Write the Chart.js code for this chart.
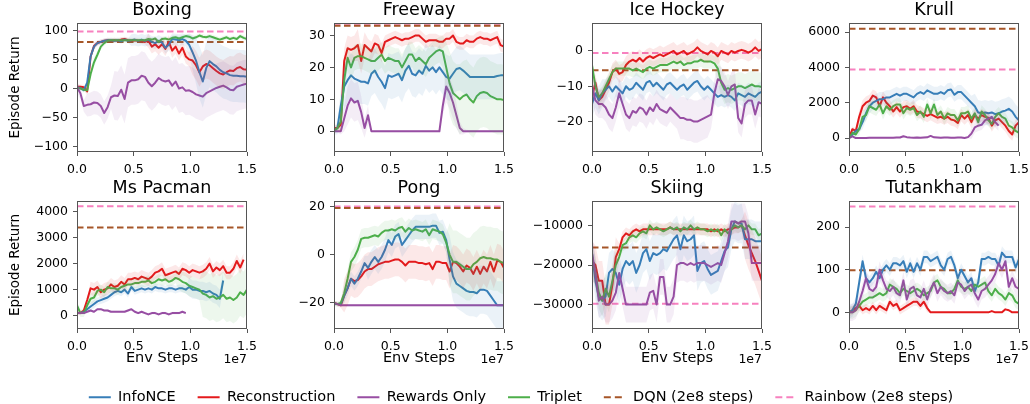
<!DOCTYPE html>
<html><head><meta charset="utf-8">
<script src="https://cdn.jsdelivr.net/npm/chart.js@4.4.0/dist/chart.umd.min.js"></script>
<style>
html,body{margin:0;padding:0;background:#fff;}
body{width:1030px;height:404px;position:relative;overflow:hidden;}
canvas{position:absolute;}
</style></head><body>
<script>
// ---------- x positions (units of 1e7 env steps) ----------
const STEPS = [0,0.03,0.06,0.09,0.12,0.15,0.18,0.21,0.24,0.27,0.3,0.33,0.36,0.39,0.42,0.45,0.48,0.51,0.54,0.57,0.6,0.63,0.66,0.69,0.72,0.75,0.78,0.81,0.84,0.87,0.9,0.93,0.96,0.99,1.02,1.05,1.08,1.11,1.14,1.17,1.2,1.23,1.26,1.29,1.32,1.35,1.38,1.41,1.44,1.47,1.5];
const X_TICKS = [0, 0.5, 1.0, 1.5];
const SERIES_NAMES = ['InfoNCE','Reconstruction','Rewards Only','Triplet','DQN (2e8 steps)','Rainbow (2e8 steps)'];
const GAMES = ['Boxing','Freeway','Ice Hockey','Krull','Ms Pacman','Pong','Skiing','Tutankham'];

// ---------- Boxing ----------
const BOX_INFONCE = [2,1,-3,10,55,72,78,80,82,83, 83,82,83,81,84,82,83,84,82,84, 82,84,80,78,82,79,70,75,85,84, 83,85,82,75,62,48,28,12,35,47, 42,38,32,28,26,23,22,22,21,21, 20];
const BOX_RECON = [3,3,2,-5,55,73,78,80,82,83, 82,83,82,84,85,83,82,83,82,81, 80,82,72,76,70,76,68,80,65,72, 60,70,55,50,48,40,28,38,42,40, 35,30,26,24,28,31,30,35,37,33, 32];
const BOX_REWARDS = [2,-8,-30,-28,-27,-24,-25,-30,-42,-32, -15,-12,-13,-2,-18,10,14,14,16,22, 20,10,4,10,18,14,12,14,5,12, 0,2,-4,-3,-6,-10,-12,-14,-8,-5, -2,1,3,5,2,-2,-3,3,5,7, 8];
const BOX_TRIPLET = [0,0,-2,-3,25,45,58,72,78,82, 83,83,83,83,83,83,83,83,83,83, 83,85,84,86,80,85,86,84,87,88, 86,88,90,89,86,88,91,89,88,90, 88,86,84,86,88,85,87,85,90,87, 85];
const SD_BOX_INFONCE = [4,4,4,4,6,6,5,4,4,4, 4,4,4,4,4,4,10,10,10,10, 10,10,10,10,10,10,10,10,10,10, 10,10,10,20,30,40,45,45,45,45, 45,45,45,45,45,45,45,45,45,45, 45];
const SD_BOX_RECON = [4,4,4,6,6,5,4,4,4,4, 4,4,4,4,4,4,4,4,4,4, 4,12,12,12,12,12,12,12,12,12, 12,12,12,12,25,25,25,25,25,25, 25,25,25,25,25,25,25,25,25,25, 25];
const SD_BOX_REWARDS = [10,10,10,20,20,20,20,20,20,20, 20,42,42,42,42,42,42,42,42,42, 42,42,42,42,42,42,42,42,42,42, 42,42,42,42,42,42,42,42,42,42, 42,42,42,42,42,42,42,42,42,42, 42];
const SD_BOX_TRIPLET = [3,3,3,5,8,8,6,5,4,4, 4,4,4,4,4,4,4,4,4,4, 4,4,4,4,4,4,4,4,4,4, 4,4,4,4,4,4,4,4,4,4, 4,4,4,4,4,4,4,4,4,4, 4];
const BOX_YTICKS = [-100,-50,0,50,100];

// ---------- Freeway ----------
const FRW_INFONCE = [0,1,8,14,16,17.5,16.5,16,15.5,15.5, 15,18,19,17,15.5,13.5,17.5,17,17.5,18, 16,19,20.5,18,17.5,19,18,20.5,19,20, 18.5,20,18.5,17,16.5,18,19.5,19.8,19,18, 17,17,17,17,17,17,17,17,17.3,17.5, 17.5];
const FRW_RECON = [1,1,2,22,26,25.5,26,27,22,27, 26,25,27.5,27,24.5,28,28.5,29,29.5,29, 28.5,29,29,29.5,30,30,29,28,28.5,28.5, 28.5,28,28,29,29,30,28,27.5,27.5,28.5, 28,28,29,29.5,29,29,28.5,29,29.5,27, 26.5];
const FRW_REWARDS = [0,0,0,4,8,10.3,9,9.5,6,1, 5,0,0,0,0,0,0,0,0,0, 0,0,0,0,0,0,0,0,0,0, 0,0,8,14,12,9,5,1,0,0, 0,0,0,0,0,0,0,0,0,0, 0];
const FRW_TRIPLET = [0,1,3,16,23,20,23,23.5,23.5,23, 22.5,22,22,23,24,22,23,22.5,22,22, 20,22,24,24,22,23,22,21,23,24, 25,25.5,25,20,15,12,11,10,11,11.5, 10,9,11,12,12.3,12,11,10.5,10,10, 9.8];
const SD_FRW_INFONCE = [1,2,5,7,7,7,7,7,7,7, 7,7,7,7,7,7,7,7,7,7, 7,7,7,7,7,7,7,7,7,7, 7,7,7,7,7,7,7,7,7,7, 7,7,7,7,7,7,7,7,7,7, 7];
const SD_FRW_RECON = [1,1,2,4,4,4,4,5,4,4, 3,3,3,3,3,2,2,2,2,2, 2,2,2,2,2,2,2,2,2,2, 2,2,2,2,2,2,2,2,2,2, 2,2,2,2,2,2,2,2,2,2, 2];
const SD_FRW_REWARDS = [0.5,0.5,1,4,6,6,6,6,5,3, 3,0.3,0.3,0.3,0.3,0.3,0.3,0.3,0.3,0.3, 0.3,0.3,0.3,0.3,0.3,0.3,0.3,0.3,0.3,0.3, 0.3,0.3,3,5,5,5,4,2,1,0.5, 0.3,0.3,0.3,0.3,0.3,0.3,0.3,0.3,0.3,0.3, 0.3];
const SD_FRW_TRIPLET = [1,1,3,4,4,4,4,4,4,4, 4,4,4,4,4,4,4,4,4,4, 4,4,4,4,4,4,4,4,4,4, 4,4,5,8,10,10,10,11,11,11, 11,11,11,11,11,11,11,11,11,11, 11];
const FRW_YTICKS = [0,10,20,30];

// ---------- Ice Hockey ----------
const ICE_INFONCE = [-15,-12,-14,-12,-11,-10,-11.5,-10,-11,-12, -10,-11,-10.5,-9,-10,-11,-9,-8.5,-10,-9, -10,-11,-9.5,-9,-10,-11,-10,-9.5,-11,-10, -9,-8.5,-10,-11,-10,-11,-12,-13,-12.5,-13, -12.5,-13,-14,-12,-12.5,-13,-12,-12.5,-13,-12, -11.5];
const ICE_RECON = [-13,-9,-14,-13,-11,-9,-6,-5,-6.5,-6, -4,-3,-2.5,-3,-2,-3,-2,-1.5,-2,-1.5, -1,-1.5,-1,-0.5,0,-1,-0.5,0,-1,-0.5, 0,1,0,-0.5,-1,0,-0.5,-1.5,0,-0.5, -1,0,-0.5,0,0.3,0,-0.5,0,1,0, 0.5];
const ICE_REWARDS = [-10,-14,-15,-15,-16,-18,-19,-16,-12,-15, -18,-19,-17,-17.5,-16,-16.5,-18,-16,-17,-15, -16.5,-17,-17.5,-16,-17,-18,-19,-19,-19.5,-19.5, -20,-20,-19.5,-19,-18.5,-18,-12,-8,-8.5,-10, -12.5,-10,-9.5,-19,-20.5,-15,-14,-14,-18,-14.5, -15];
const ICE_TRIPLET = [-4,-10,-13,-12,-10,-8,-6,-5,-5,-5, -5,-5,-5.5,-5,-5.5,-6,-5,-4.5,-5,-4.5, -4,-4,-4,-3.5,-3,-3.5,-3,-4,-3.5,-3.5, -3,-3,-2.5,-3,-3,-3,-3.5,-5,-9,-11, -10.5,-11,-10.5,-10,-10,-10.5,-10,-9.5,-10,-10, -10.2];
const SD_ICE_INFONCE = [4,4,4,4,3,3,3,3,3,3, 3,3,3,3,3,3,3,3,3,3, 3,3,3,3,3,3,3,3,3,3, 3,3,3,3,3,3,3,3,3,3, 3,3,3,3,3,3,3,3,3,3, 3];
const SD_ICE_RECON = [2.5,2.5,2.5,2.5,2.5,2.5,2.5,2.5,2.5,2.5, 2.5,2.5,2.5,2.5,2.5,2.5,2.5,2.5,2.5,2.5, 2.5,2.5,2.5,2.5,2.5,2.5,2.5,2.5,2.5,2.5, 2.5,2.5,2.5,2.5,2.5,2.5,2.5,2.5,2.5,2.5, 2.5,2.5,2.5,2.5,2.5,2.5,2.5,2.5,2.5,2.5, 2.5];
const SD_ICE_REWARDS = [4,4,4,4,4,4,4,4,4,4, 4,4,4,4,4,4,4,4,4,4, 4,4,4,4,4,4,6,6,6,6, 6,6,6,6,6,4,4,4,4,4, 4,4,4,4,4,4,4,4,4,4, 4];
const SD_ICE_TRIPLET = [2,2,2,2,2,2,2,2,2,2, 2,2,2,2,2,2,2,2,2,2, 2,2,2,2,2,2,2,2,2,2, 2,2,2,2,2,2,2,4,4,4, 4,4,4,4,4,4,4,4,4,4, 4];
const ICE_YTICKS = [-20,-10,0];

// ---------- Krull ----------
const KRL_INFONCE = [0,200,400,500,900,1400,1800,2000,2100,2200, 2200,2300,2300,2400,2500,2400,2500,2500,2400,2300, 2500,2600,2500,2700,2600,2500,2500,2600,2500,2700, 2750,2450,2600,2600,2400,2200,2000,1800,1450,1400, 1450,1400,1450,1350,1400,1500,1550,1650,1500,1200, 1000];
const KRL_RECON = [0,500,400,1200,1800,2000,2100,2400,2300,1800, 2300,2000,1800,1500,1750,1500,1750,1800,1650,1800, 1500,1450,1350,1250,1350,1250,1150,1200,1100,1200, 1050,1000,850,1300,1100,1300,900,1300,1100,1300, 1200,1150,700,1000,1100,900,700,400,200,700, 900];
const KRL_REWARDS = [0,100,0,0,0,0,10,20,20,20, 20,20,20,20,30,30,100,50,30,20, 30,20,30,40,120,40,30,20,30,30, 20,20,30,30,0,50,250,600,700,750, 1000,1100,1200,900,700,null,null,null,null,null, null];
const KRL_TRIPLET = [0,300,200,500,1200,1300,1800,1700,1600,1900, 1400,1800,1600,1800,1900,1900,1400,1700,1600,1700, 1300,1500,1200,1900,1400,1900,1300,1500,1100,1400, 1300,1300,1000,1400,1400,1500,1100,1400,900,1500, 1300,1000,800,1200,1400,1200,1100,700,600,400, 300];
const SD_KRL_INFONCE = [150,150,150,150,400,400,400,400,400,400, 400,400,400,400,400,400,400,400,400,400, 400,400,400,400,400,400,400,400,400,400, 400,400,400,400,400,400,400,700,700,700, 700,700,700,700,700,700,700,700,700,700, 700];
const SD_KRL_RECON = [150,150,150,350,350,350,350,350,350,350, 350,350,350,350,350,350,350,350,350,350, 350,350,350,350,350,350,350,350,350,350, 350,350,350,350,350,350,350,350,350,350, 350,350,350,350,350,350,350,350,350,350, 350];
const SD_KRL_REWARDS = [60,60,60,60,60,60,60,60,60,60, 60,60,60,60,60,60,60,60,60,60, 60,60,60,60,60,60,60,60,60,60, 60,60,60,60,60,60,300,300,300,300, 300,300,300,300,300,null,null,null,null,null, null];
const SD_KRL_TRIPLET = [150,150,150,350,350,350,350,350,350,350, 350,350,350,350,350,350,350,350,350,350, 350,350,350,350,350,350,350,350,350,350, 350,350,350,350,350,350,350,350,350,350, 350,350,350,350,350,350,350,350,350,350, 350];
const KRL_YTICKS = [0,2000,4000,6000];

// ---------- Ms Pacman ----------
const MSP_INFONCE = [100,100,150,250,350,450,550,600,650,700, 800,900,950,900,1000,850,1100,950,1000,1050, 1000,1050,1000,1100,1050,1050,1000,1050,1050,1000, 1050,1050,1000,1100,1000,1000,950,950,900,950, 850,800,650,1350,null,null,null,null,null,null, null];
const MSP_RECON = [100,100,200,600,1050,1000,1100,900,1000,1050, 1200,1100,1150,1300,1200,1400,1400,1450,1400,1500, 1450,1400,1500,1650,1700,1800,1550,1600,1650,1700, 1600,1800,1750,1650,1750,1700,1650,1700,1800,2000, 1700,1850,1750,1900,1650,1650,1800,2100,1850,2150, null];
const MSP_REWARDS = [100,100,100,150,200,150,250,250,200,200, 150,150,150,150,150,200,250,150,100,150, 100,50,100,100,50,100,100,50,100,100, 100,150,100,null,null,null,null,null,null,null, null,null,null,null,null,null,null,null,null,null, null];
const MSP_TRIPLET = [400,100,100,400,650,700,950,1000,900,1100, 1050,1050,1000,1100,1150,1200,1200,1250,1250,1300, 1300,1350,1250,1300,1400,1350,1400,1300,1350,1450, 1400,1300,1250,1150,1100,1050,1000,850,800,700, 750,650,700,800,650,700,600,700,900,800, 1000];
const SD_MSP_INFONCE = [50,50,50,50,150,150,150,150,150,150, 150,150,150,150,150,150,150,150,150,150, 150,150,150,150,150,150,150,150,150,150, 150,150,150,350,350,350,350,350,350,350, 350,350,350,350,null,null,null,null,null,null, null];
const SD_MSP_RECON = [80,80,80,80,250,250,250,250,250,250, 250,250,250,250,250,250,250,250,250,250, 250,250,250,250,250,250,250,250,250,250, 250,250,250,250,250,250,250,250,250,250, 250,250,250,250,250,250,250,250,250,250, null];
const SD_MSP_REWARDS = [50,50,50,50,50,50,50,50,50,50, 50,50,50,50,50,50,50,50,50,50, 50,50,50,50,50,50,50,50,50,50, 50,50,50,null,null,null,null,null,null,null, null,null,null,null,null,null,null,null,null,null, null];
const SD_MSP_TRIPLET = [150,150,150,150,200,200,200,200,200,200, 200,200,200,200,200,200,200,200,200,200, 200,200,200,200,200,200,200,200,200,200, 400,400,400,400,400,400,400,900,900,900, 900,900,900,900,900,900,900,900,900,900, 900];
const MSP_YTICKS = [0,1000,2000,3000,4000];

// ---------- Pong ----------
const PNG_INFONCE = [-20.5,-20.5,-20.5,-17,-14,-10,-12,-10,-7,-3.5, -5.5,-3,-1,-3,-1,2,6,4,7.5,8.5, 4,6,8,10,11.5,11.5,11.5,11.5,11.5,12, 12,9,9.5,6,-2,-9,-12,-13,-14,-15, -15.5,-15.5,-16,-14.5,-14.5,-15,-17,-19,-21,-21, -21];
const PNG_RECON = [-20,-20.5,-21,-17,-14,-10,-11,-10.5,-9,-7, -6,-6,-5,-4,-3.5,-3,-3,-2.5,-2,-2, -3,-4.5,-3,-3,-3,-3.5,-3.5,-4,-3.5,-6, -3,-3,-3.5,-3.5,-7,-3,-3.5,-5,-7,-4.5, -5.5,-8,-5,-8,-5,-7,-3,-7,-2.5,-3, -5.5];
const PNG_REWARDS = [-20,-20.5,-21,-21,-21,-21,-21,-21,-21,-21, -21,-21,-21,-21,-21,-21,-21,-21,-21,-21, -21,-21,-21,-21,-21,-21,-21,-21,-21,-21, -21,-21,-21,-21,-21,-21,-21,-21,-21,-21, -21,-21,-21,-21,-21,-21,-21,-21,-21,-21, -21];
const PNG_TRIPLET = [-20,-20.5,-20,-16,-10,-3,-1,2,6.5,7, 7,7.5,8,7.5,9,10,10,10.5,10,11, 11.5,9.5,11,10,10.5,10,9.5,10.5,8,10.5, 10,9.5,8.5,5,0,-3,-3,-4,-5,-6, -6,-4,-3,-1.5,-1,-1.5,-1.5,-2,-2,-3, -3.5];
const SD_PNG_INFONCE = [1,1,1,3,3,3,3,3,3,3, 5,5,5,5,5,5,5,5,5,5, 5,5,5,5,5,5,5,5,5,5, 5,5,5,5,10,10,10,10,10,10, 10,10,10,10,10,10,10,10,10,10, 10];
const SD_PNG_RECON = [1,1,1,7,7,7,7,7,7,7, 7,7,7,7,7,7,7,7,7,7, 7,7,7,7,7,7,7,7,7,7, 7,7,7,7,7,7,7,7,7,7, 7,7,7,7,7,7,7,7,7,7, 7];
const SD_PNG_REWARDS = [0.5,0.5,0.5,0.5,0.5,0.5,0.5,0.5,0.5,0.5, 0.5,0.5,0.5,0.5,0.5,0.5,0.5,0.5,0.5,0.5, 0.5,0.5,0.5,0.5,0.5,0.5,0.5,0.5,0.5,0.5, 0.5,0.5,0.5,0.5,0.5,0.5,0.5,0.5,0.5,0.5, 0.5,0.5,0.5,0.5,0.5,0.5,0.5,0.5,0.5,0.5, 0.5];
const SD_PNG_TRIPLET = [1,1,1,4,4,4,4,4,4,4, 4,4,4,4,4,4,4,4,4,4, 4,4,4,4,4,4,4,4,4,4, 4,4,4,4,13,13,13,13,13,13, 13,13,13,13,13,13,13,13,13,13, 13];
const PNG_YTICKS = [-20,0,20];

// ---------- Skiing ----------
const SKI_INFONCE = [-17000,-24000,-28000,-29000,-28000,-22000,-21000,-22000,-25000,-21000, -19000,-20000,-19000,-22000,-20000,-17000,-16000,-19000,-17000,-17500, -17000,-16000,-16500,-15000,-13500,-12500,-16000,-12500,-14000,-13500, -12500,-21500,-19500,-19000,-21000,-22500,-22000,-21500,-19000,-16500, -15500,-11000,-9000,-9500,-9500,-13500,-13500,-13500,-14000,-14000, -14000];
const SKI_RECON = [-19000,-20000,-24000,-24000,-30000,-30000,-25000,-18000,-16000,-13000, -12000,-12500,-11500,-11000,-11500,-11000,-11000,-11000,-11000,-11000, -11000,-11000,-11000,-10500,-11000,-11000,-11000,-11000,-11000,-11000, -11000,-11000,-11000,-11000,-11000,-11500,-11000,-11500,-11000,-11500, -11000,-11000,-10500,-10500,-10000,-12500,-15000,-17000,-19000,-21500, -24000];
const SKI_REWARDS = [-17000,-22000,-29000,-28000,-30000,-30000,-29000,-27000,-22000,-26000, -30000,-30000,-30000,-30000,-30000,-30000,-30000,-27000,-26500,-30000, -23000,-23000,-30000,-30000,-28000,-20000,-19500,-19500,-20000,-19500, -20000,-19500,-19500,-19500,-20000,-20500,-20000,-19500,-20000,-17000, -14000,-9000,-9000,-9500,-9000,-9000,-12000,-19500,-19500,-19500, -19500];
const SKI_TRIPLET = [-18000,-22000,-27000,-29000,-26000,-28000,-24000,-20000,-18000,-15000, -14500,-13000,-12500,-13000,-12000,-11500,-12000,-10000,-11000,-10500, -11000,-11500,-11000,-10500,-11000,-10500,-11500,-10500,-11000,-10000, -11000,-10500,-11000,-11000,-11500,-11000,-11500,-11000,-12500,-11000, -12000,-11000,-10000,-10500,-10000,-11000,-10000,-11000,-11000,-12500, -12000];
const SD_SKI_INFONCE = [5000,5000,5000,5000,5000,5000,5000,5000,5000,5000, 5000,5000,5000,5000,5000,5000,5000,5000,5000,5000, 5000,5000,5000,5000,5000,5000,5000,5000,5000,5000, 5000,5000,5000,5000,5000,5000,5000,5000,5000,5000, 5000,5000,5000,5000,5000,5000,5000,5000,5000,5000, 5000];
const SD_SKI_RECON = [5000,5000,5000,5000,5000,5000,5000,5000,1500,1500, 1500,1500,1500,1500,1500,1500,1500,1500,1500,1500, 1500,1500,1500,1500,1500,1500,1500,1500,1500,1500, 1500,1500,1500,1500,1500,1500,1500,1500,1500,1500, 1500,1500,1500,1500,1500,6000,6000,6000,6000,6000, 6000];
const SD_SKI_REWARDS = [4500,4500,4500,4500,4500,4500,4500,4500,4500,4500, 4500,4500,4500,4500,4500,4500,4500,4500,4500,4500, 4500,4500,4500,4500,4500,4500,4500,4500,4500,4500, 4500,4500,4500,4500,4500,4500,4500,4500,4500,4500, 4500,4500,4500,4500,4500,4500,4500,4500,4500,4500, 4500];
const SD_SKI_TRIPLET = [4000,4000,4000,4000,4000,4000,4000,4000,1500,1500, 1500,1500,1500,1500,1500,1500,1500,1500,1500,1500, 1500,1500,1500,1500,1500,1500,1500,1500,1500,1500, 1500,1500,1500,1500,1500,1500,1500,1500,1500,1500, 1500,1500,1500,1500,1500,1500,1500,1500,1500,1500, 1500];
const SKI_YTICKS = [-30000,-20000,-10000];

// ---------- Tutankham ----------
const TUT_INFONCE = [0,5,20,70,120,80,70,80,95,80, 100,110,100,115,115,110,120,95,115,95, 115,100,130,130,120,125,130,110,100,125, 130,110,80,100,85,70,80,50,70,125, 125,130,125,125,110,140,130,130,130,105, 125];
const TUT_RECON = [0,5,10,15,5,10,5,15,5,15, 10,5,25,15,20,5,10,15,20,25, 25,15,25,10,0,0,0,0,0,0, 0,0,0,0,0,0,0,0,0,0, 0,0,3,0,0,0,7,5,0,0, 0];
const TUT_REWARDS = [0,0,5,25,50,80,55,50,60,100, 75,55,50,60,45,40,75,30,55,60, 40,35,55,30,55,70,45,60,50,45, 50,40,70,65,50,60,65,45,30,50, 55,65,75,90,115,100,120,60,80,60, 55];
const TUT_TRIPLET = [0,0,5,15,25,30,35,35,40,45, 40,45,65,60,55,45,55,50,45,50, 55,50,40,45,50,70,75,60,55,45, 45,55,75,60,55,60,50,65,60,65, 70,50,40,55,45,40,30,45,40,25, 20];
const SD_TUT_INFONCE = [15,15,15,15,15,15,15,15,15,15, 15,15,15,15,15,15,15,15,15,15, 15,15,15,15,15,15,15,15,15,15, 15,15,15,15,15,15,15,15,15,15, 15,15,15,15,15,15,15,15,15,15, 15];
const SD_TUT_RECON = [10,10,10,10,10,10,10,10,10,10, 10,10,10,10,10,10,10,10,10,10, 10,10,10,10,1,1,1,1,1,1, 1,1,1,1,1,1,1,1,1,1, 1,1,1,1,1,1,1,1,1,1, 1];
const SD_TUT_REWARDS = [20,20,20,20,20,20,20,20,20,20, 20,20,20,20,20,20,20,20,20,20, 20,20,20,20,20,20,20,20,20,20, 20,20,20,20,20,20,20,20,20,20, 20,20,20,20,20,20,20,20,20,20, 20];
const SD_TUT_TRIPLET = [15,15,15,15,15,15,15,15,15,15, 15,15,15,15,15,15,15,15,15,15, 15,15,15,15,15,15,15,15,15,15, 15,15,15,15,15,15,15,15,15,15, 15,15,15,15,15,15,15,15,15,15, 15];
const TUT_YTICKS = [0,100,200];

// ---------- reference baselines (DQN, Rainbow at 2e8 steps) ----------
const DQN_SCORES     = [80, 33.0, -5.5, 6180, 3385, 19.3, -15600, 98.5];
const RAINBOW_SCORES = [98, 33.7, -0.6, 3880, 4200, 19.9, -29800, 248];
const Y_MIN = [-109, -6.5, -28.6, -790, -510, -30.8, -36160, -39];
const Y_MAX = [112.5, 33.9, 7.9, 6510, 4400, 22.2, -3840, 261];

// ---------- styling ----------
const COLORS = ['#377eb8','#e41a1c','#984ea3','#4daf4a','#a65628','#f781bf'];
const FONT = 'DejaVu Sans';
Chart.defaults.font.family = FONT;
Chart.defaults.color = '#000';

const PANEL_DATA = [
  {y:[BOX_INFONCE,BOX_RECON,BOX_REWARDS,BOX_TRIPLET], sd:[SD_BOX_INFONCE,SD_BOX_RECON,SD_BOX_REWARDS,SD_BOX_TRIPLET], ticks:BOX_YTICKS},
  {y:[FRW_INFONCE,FRW_RECON,FRW_REWARDS,FRW_TRIPLET], sd:[SD_FRW_INFONCE,SD_FRW_RECON,SD_FRW_REWARDS,SD_FRW_TRIPLET], ticks:FRW_YTICKS},
  {y:[ICE_INFONCE,ICE_RECON,ICE_REWARDS,ICE_TRIPLET], sd:[SD_ICE_INFONCE,SD_ICE_RECON,SD_ICE_REWARDS,SD_ICE_TRIPLET], ticks:ICE_YTICKS},
  {y:[KRL_INFONCE,KRL_RECON,KRL_REWARDS,KRL_TRIPLET], sd:[SD_KRL_INFONCE,SD_KRL_RECON,SD_KRL_REWARDS,SD_KRL_TRIPLET], ticks:KRL_YTICKS},
  {y:[MSP_INFONCE,MSP_RECON,MSP_REWARDS,MSP_TRIPLET], sd:[SD_MSP_INFONCE,SD_MSP_RECON,SD_MSP_REWARDS,SD_MSP_TRIPLET], ticks:MSP_YTICKS},
  {y:[PNG_INFONCE,PNG_RECON,PNG_REWARDS,PNG_TRIPLET], sd:[SD_PNG_INFONCE,SD_PNG_RECON,SD_PNG_REWARDS,SD_PNG_TRIPLET], ticks:PNG_YTICKS},
  {y:[SKI_INFONCE,SKI_RECON,SKI_REWARDS,SKI_TRIPLET], sd:[SD_SKI_INFONCE,SD_SKI_RECON,SD_SKI_REWARDS,SD_SKI_TRIPLET], ticks:SKI_YTICKS},
  {y:[TUT_INFONCE,TUT_RECON,TUT_REWARDS,TUT_TRIPLET], sd:[SD_TUT_INFONCE,SD_TUT_RECON,SD_TUT_REWARDS,SD_TUT_TRIPLET], ticks:TUT_YTICKS}
];

// layout (pixels)
const COL_LEFT = [77, 334, 592, 849];
const PLOT_W = 170;
const ROW_TOP = [23, 201];
const PLOT_H = [129, 128];
const SIDE_W = 70, TITLE_H = 23;
const XAX_H = [29, 38];

function hexA(hex, a){
  const n = parseInt(hex.slice(1),16);
  return `rgba(${(n>>16)&255},${(n>>8)&255},${n&255},${a})`;
}
function fmtNum(v){
  return (v < 0 ? '\u2212' : '') + Math.abs(v);
}

const framePlugin = {
  id:'frame',
  afterDatasetsDraw(chart){
    const a = chart.chartArea, ctx = chart.ctx;
    ctx.save();
    ctx.strokeStyle = '#555';
    ctx.lineWidth = 1;
    ctx.strokeRect(Math.round(a.left)+0.5, Math.round(a.top)+0.5, Math.round(a.right-a.left)-1, Math.round(a.bottom-a.top)-1);
    ctx.restore();
  }
};

function makePanel(idx){
  const row = Math.floor(idx/4), col = idx%4;
  const pd = PANEL_DATA[idx];
  const cv = document.createElement('canvas');
  const W = SIDE_W + PLOT_W + SIDE_W;
  const H = TITLE_H + PLOT_H[row] + XAX_H[row];
  cv.width = W; cv.height = H;
  cv.style.left = (COL_LEFT[col]-SIDE_W)+'px';
  cv.style.top = (ROW_TOP[row]-TITLE_H)+'px';
  cv.style.width = W+'px'; cv.style.height = H+'px';
  document.body.appendChild(cv);

  const datasets = [];
  for (let s=0; s<4; s++){
    const vals = pd.y[s], sd = pd.sd[s];
    datasets.push({data: STEPS.map((x,i)=>({x, y: vals[i]==null||sd[i]==null ? null : vals[i]-sd[i]})),
      borderWidth:0, pointRadius:0, fill:false, borderColor:'rgba(0,0,0,0)'});
    datasets.push({data: STEPS.map((x,i)=>({x, y: vals[i]==null||sd[i]==null ? null : vals[i]+sd[i]})),
      borderWidth:0, pointRadius:0, fill:'-1', borderColor:'rgba(0,0,0,0)', backgroundColor: hexA(COLORS[s],0.1)});
  }
  for (const s of [2,3,0,1]){
    const vals = pd.y[s];
    datasets.push({data: STEPS.map((x,i)=>({x, y: vals[i]})), borderColor: COLORS[s], borderWidth:2,
      pointRadius:0, fill:false, borderJoinStyle:'round', borderCapStyle:'butt'});
  }
  datasets.push({data:[{x:0,y:DQN_SCORES[idx]},{x:1.5,y:DQN_SCORES[idx]}], borderColor:COLORS[4], borderWidth:2, borderDash:[6.5,3.5], pointRadius:0, fill:false});
  datasets.push({data:[{x:0,y:RAINBOW_SCORES[idx]},{x:1.5,y:RAINBOW_SCORES[idx]}], borderColor:COLORS[5], borderWidth:2, borderDash:[6.5,3.5], pointRadius:0, fill:false});

  const tickFont = {family:FONT, size:12.5};
  const offsetPlugin = {
    id:'offsetText',
    afterDraw(chart){
      if (row !== 1) return;
      const ctx = chart.ctx, a = chart.chartArea;
      ctx.save();
      ctx.font = '12.5px "DejaVu Sans"';
      ctx.fillStyle = '#000';
      ctx.textAlign = 'right';
      ctx.textBaseline = 'middle';
      ctx.fillText('1e7', a.right, a.bottom + 31);
      ctx.restore();
    }
  };

  new Chart(cv, {
    type:'line',
    data:{datasets},
    options:{
      responsive:false, animation:false, devicePixelRatio:1,
      layout:{padding:0},
      plugins:{
        legend:{display:false}, tooltip:{enabled:false},
        title:{display:true, text:GAMES[idx], color:'#000', align:'center', font:{family:FONT, size:17.5, weight:'normal', lineHeight:'20px'}, padding:{top:0,bottom:3}}
      },
      elements:{line:{tension:0}},
      scales:{
        x:{type:'linear', min:0, max:1.5,
          afterBuildTicks:(sc)=>{ sc.ticks = X_TICKS.map(v=>({value:v})); },
          ticks:{callback:(v)=>Number(v).toFixed(1), font:tickFont, color:'#000', padding:6, maxRotation:0, autoSkip:false},
          grid:{drawOnChartArea:false, drawTicks:true, tickLength:4, color:'#555', lineWidth:1},
          border:{display:false},
          title:{display: row===1, text:'Env Steps', color:'#000', font:{family:FONT, size:14.5}, padding:{top:0,bottom:0}},
          afterFit:(sc)=>{ sc.height = XAX_H[row]; }
        },
        y:{type:'linear', min:Y_MIN[idx], max:Y_MAX[idx],
          afterBuildTicks:(sc)=>{ sc.ticks = pd.ticks.map(v=>({value:v})); },
          ticks:{callback:(v)=>fmtNum(v), font:tickFont, color:'#000', padding:5, autoSkip:false},
          grid:{drawOnChartArea:false, drawTicks:true, tickLength:4, color:'#555', lineWidth:1},
          border:{display:false},
          title:{display: col===0, text:'Episode Return', color:'#000', font:{family:FONT, size:13.5}, padding:{top:0,bottom:0}},
          afterFit:(sc)=>{ sc.width = SIDE_W; }
        },
        spacer:{type:'linear', position:'right', display:true,
          ticks:{display:false}, grid:{display:false}, border:{display:false},
          afterFit:(sc)=>{ sc.width = SIDE_W; }
        }
      }
    },
    plugins:[framePlugin, offsetPlugin]
  });
}

for (let i=0;i<8;i++) makePanel(i);

// ---------- shared legend ----------
(function(){
  const cv = document.createElement('canvas');
  const LW = 1030, LH = 100;
  cv.width = LW; cv.height = LH;
  cv.style.left = '6px'; cv.style.top = '350px';
  cv.style.width = LW+'px'; cv.style.height = LH+'px';
  document.body.appendChild(cv);
  new Chart(cv, {
    type:'line',
    data:{datasets: SERIES_NAMES.map((n,i)=>({label:n, data:[], borderColor:COLORS[i], backgroundColor:COLORS[i], borderWidth:2, borderDash: i>=4 ? [7,4] : [], pointStyle:'line'}))},
    options:{
      responsive:false, animation:false, devicePixelRatio:1,
      layout:{padding:{top:18, left:0, right:0, bottom:0}},
      scales:{x:{display:false}, y:{display:false}},
      plugins:{
        tooltip:{enabled:false},
        title:{display:false},
        legend:{display:true, position:'top', align:'center', maxHeight:80,
          labels:{usePointStyle:true, pointStyle:'line', pointStyleWidth:22, boxHeight:14,
            font:{family:FONT, size:14.5}, color:'#000', padding:22,
            generateLabels:()=>SERIES_NAMES.map((n,i)=>({text:n, fillStyle:COLORS[i], strokeStyle:COLORS[i],
              lineWidth:2, lineDash: i>=4 ? [7,4] : [], pointStyle:'line', hidden:false, datasetIndex:i, fontColor:'#000'}))
          }
        }
      }
    }
  });
})();
</script>
</body></html>
